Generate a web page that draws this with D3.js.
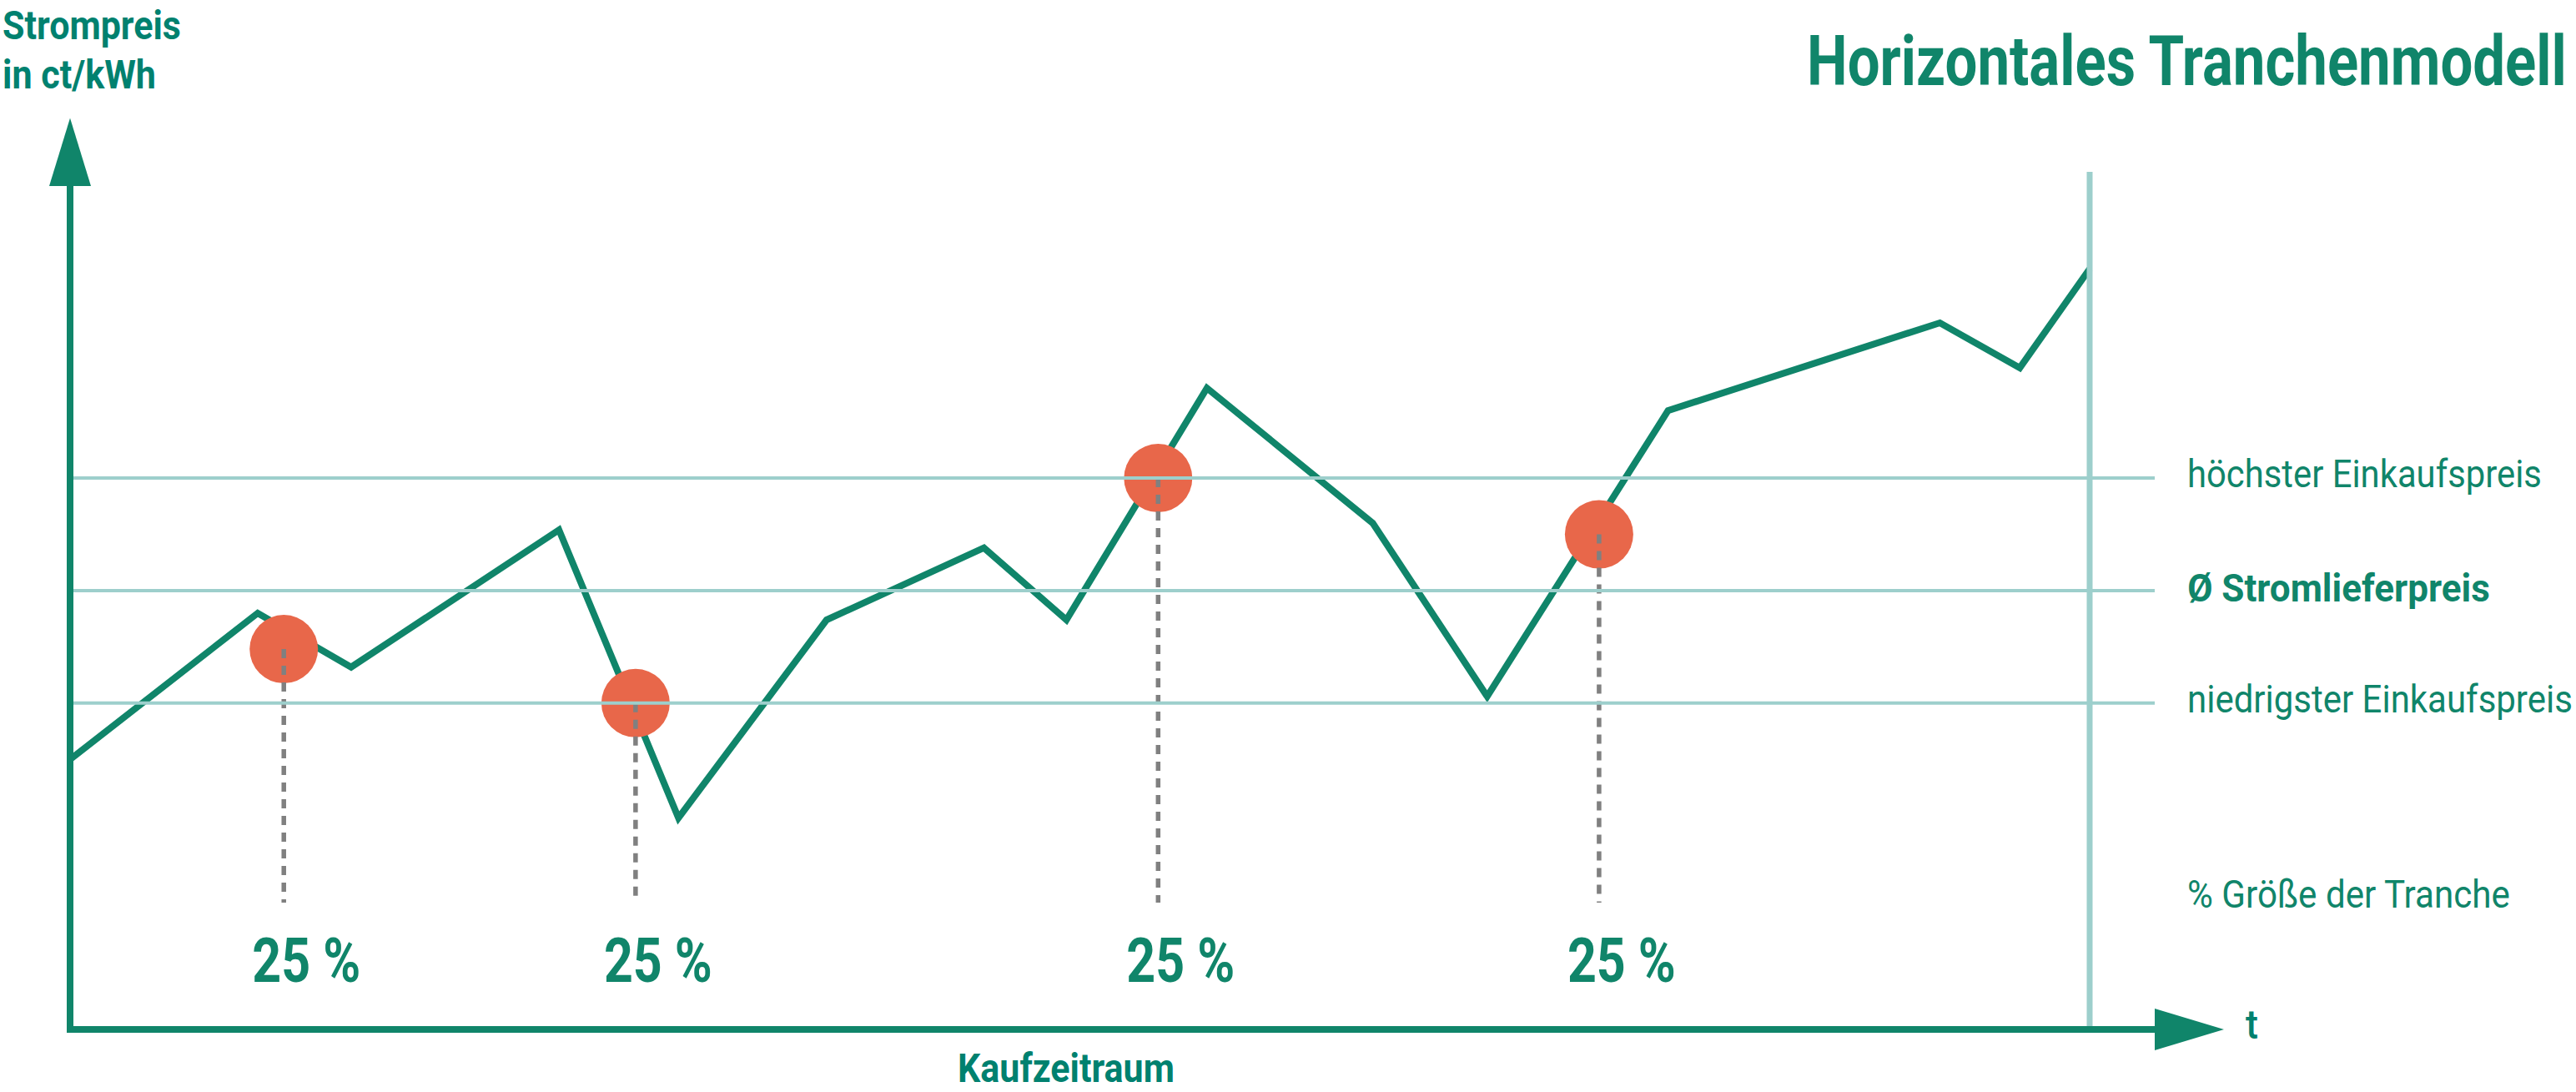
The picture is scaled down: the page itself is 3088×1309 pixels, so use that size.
<!DOCTYPE html>
<html>
<head>
<meta charset="utf-8">
<script src="https://cdn.jsdelivr.net/npm/d3@7"></script>
<style>
  html, body { margin: 0; padding: 0; background: #ffffff; }
  svg { display: block; }
  text { font-family: Roboto, "Noto Sans", "DejaVu Sans", sans-serif; }
</style>
</head>
<body>
<svg id="chart" width="3088" height="1309"></svg>
<script>
// ---------- data ----------
const months = [0, 2.23, 3.34, 5.81, 7.23, 8.99, 10.86, 11.84, 13.51, 15.48, 16.84, 18.99, 22.22, 23.17, 24];
const prices = [17.5, 24.0, 21.6, 27.7, 14.9, 23.7, 26.9, 23.7, 34.0, 28.0, 20.3, 33.0, 36.9, 34.9, 39.3];

const trancheMonths = [2.54, 6.72, 12.93, 18.17];
const tranchePrices = [22.4, 20.0, 30.0, 27.5];
const trancheShares = ["25 %", "25 %", "25 %", "25 %"];

const refLevels = [30, 25, 20];
const refLabels = ["höchster Einkaufspreis", "Ø Stromlieferpreis", "niedrigster Einkaufspreis"];
const refBold = [false, true, false];

const titleText = "Horizontales Tranchenmodell";
const yTitleLines = ["Strompreis", "in ct/kWh"];
const xTitle = "Kaufzeitraum";
const xEndLabel = "t";
const shareLegend = "% Größe der Tranche";

// ---------- styling ----------
const GREEN = "#10856a";
const TEAL = "#00816f";
const LIGHT = "#9dcfcc";
const DOT = "#e8674a";
const GREY = "#808080";

const svg = d3.select("#chart");

const x = d3.scaleLinear().domain([0, 24]).range([84, 2505]);
const y = d3.scaleLinear().domain([5.5, 46]).range([1234, 141.5]);

const axisX0 = x.range()[0];
const axisY0 = y.range()[0];
const xArrowBase = 2583, xArrowTip = 2666;
const yArrowBase = 223, yArrowTip = y.range()[1];
const arrowHalf = 25;

// condensed text: keeps the visual height of `size` while fitting `width`
function condensed(t, o) {
  t.attr("font-size", o.size)
   .attr("font-weight", o.weight || 400)
   .attr("fill", o.fill)
   .attr("text-anchor", o.anchor || "start")
   .attr("x", 0).attr("y", 0)
   .text(o.text);
  const nat = t.node().getComputedTextLength();
  const r = Math.min(1, o.width / nat);
  t.attr("font-size", o.size * r)
   .attr("transform", `translate(${o.x},${o.y}) scale(1,${1 / r})`);
  return t;
}

// ---------- price line ----------
const pts = months.map((m, i) => [m, prices[i]]);
svg.append("path")
  .datum(pts)
  .attr("fill", "none")
  .attr("stroke", GREEN)
  .attr("stroke-width", 8)
  .attr("stroke-linejoin", "miter")
  .attr("d", d3.line().x(d => x(d[0])).y(d => y(d[1])));

// ---------- tranche dots ----------
const tr = trancheMonths.map((m, i) => ({ m, p: tranchePrices[i], s: trancheShares[i] }));
svg.selectAll("circle.tr").data(tr).enter().append("circle")
  .attr("class", "tr")
  .attr("cx", d => x(d.m))
  .attr("cy", d => y(d.p))
  .attr("r", 41)
  .attr("fill", DOT);

// dashed droplines
svg.selectAll("line.drop").data(tr).enter().append("line")
  .attr("class", "drop")
  .attr("x1", d => x(d.m)).attr("x2", d => x(d.m))
  .attr("y1", d => y(d.p)).attr("y2", 1082)
  .attr("stroke", GREY)
  .attr("stroke-width", 5.5)
  .attr("stroke-dasharray", "11,9");

// share labels
svg.selectAll("text.share").data(tr).enter().append("text")
  .attr("class", "share")
  .each(function (d) {
    condensed(d3.select(this), { x: x(d.m) - 38, y: 1177, size: 75, width: 130, weight: 700, fill: GREEN, text: d.s });
  });

// ---------- reference lines ----------
svg.selectAll("line.ref").data(refLevels).enter().append("line")
  .attr("class", "ref")
  .attr("x1", axisX0 + 4).attr("x2", xArrowBase)
  .attr("y1", d => y(d)).attr("y2", d => y(d))
  .attr("stroke", LIGHT)
  .attr("stroke-width", 4);

// vertical end line
svg.append("line")
  .attr("x1", x(24)).attr("x2", x(24))
  .attr("y1", 206).attr("y2", axisY0)
  .attr("stroke", LIGHT)
  .attr("stroke-width", 7);

// reference labels
const labelX = 2622;
const refLen = [425, 363, 462];
svg.selectAll("text.ref").data(refLevels).enter().append("text")
  .attr("class", "ref")
  .each(function (d, i) {
    condensed(d3.select(this), {
      x: labelX, y: y(d) + (refBold[i] ? 13 : 11), size: 47, width: refLen[i],
      weight: refBold[i] ? 700 : 400, fill: GREEN, text: refLabels[i]
    });
  });

condensed(svg.append("text"), { x: labelX, y: 1088, size: 47, width: 387, fill: GREEN, text: shareLegend });

// ---------- axes ----------
svg.append("line")
  .attr("x1", axisX0).attr("x2", axisX0)
  .attr("y1", yArrowBase - 1).attr("y2", axisY0 + 4)
  .attr("stroke", GREEN).attr("stroke-width", 8);
svg.append("path")
  .attr("d", `M${axisX0 - arrowHalf},${yArrowBase} L${axisX0},${yArrowTip} L${axisX0 + arrowHalf},${yArrowBase} Z`)
  .attr("fill", GREEN);

svg.append("line")
  .attr("x1", axisX0 - 4).attr("x2", xArrowBase + 1)
  .attr("y1", axisY0).attr("y2", axisY0)
  .attr("stroke", GREEN).attr("stroke-width", 8);
svg.append("path")
  .attr("d", `M${xArrowBase},${axisY0 - arrowHalf} L${xArrowTip},${axisY0} L${xArrowBase},${axisY0 + arrowHalf} Z`)
  .attr("fill", GREEN);

// ---------- titles ----------
condensed(svg.append("text"), { x: 2166, y: 102, size: 83, width: 911, weight: 700, fill: GREEN, text: titleText });

const yLen = [214, 184];
svg.selectAll("text.ytitle").data(yTitleLines).enter().append("text")
  .attr("class", "ytitle")
  .each(function (d, i) {
    condensed(d3.select(this), { x: 3, y: 47 + i * 59, size: 49, width: yLen[i], weight: 700, fill: TEAL, text: d });
  });

condensed(svg.append("text"), { x: 1148, y: 1297, size: 48, width: 260, weight: 700, fill: TEAL, text: xTitle });

condensed(svg.append("text"), { x: 2692, y: 1245, size: 48, width: 15, weight: 500, fill: TEAL, text: xEndLabel });
</script>
</body>
</html>
